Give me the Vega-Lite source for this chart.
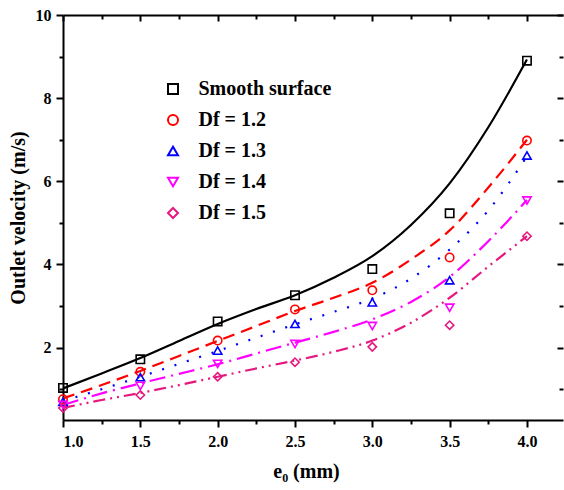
{
  "$schema": "https://vega.github.io/schema/vega-lite/v6.json",
  "autosize": "none",
  "width": 500,
  "height": 405,
  "padding": {"left": 63, "top": 15, "right": 1, "bottom": 70},
  "background": "white",
  "config": {
    "view": {"stroke": null},
    "axis": {
      "grid": false,
      "domainColor": "black",
      "domainWidth": 2,
      "tickColor": "black",
      "tickWidth": 2,
      "labelFont": "Liberation Serif",
      "labelFontSize": 16,
      "labelFontWeight": "bold",
      "labelColor": "black",
      "titleFont": "Liberation Serif",
      "titleFontSize": 20,
      "titleFontWeight": "bold",
      "titleColor": "black"
    }
  },
  "datasets": {
    "fit": [
      {"s": "Smooth surface", "x": 1.0, "v": 1.02},
      {"s": "Smooth surface", "x": 1.25, "v": 1.38},
      {"s": "Smooth surface", "x": 1.5, "v": 1.75},
      {"s": "Smooth surface", "x": 1.75, "v": 2.16},
      {"s": "Smooth surface", "x": 2.0, "v": 2.57},
      {"s": "Smooth surface", "x": 2.25, "v": 2.93},
      {"s": "Smooth surface", "x": 2.5, "v": 3.26},
      {"s": "Smooth surface", "x": 2.75, "v": 3.68},
      {"s": "Smooth surface", "x": 3.0, "v": 4.2},
      {"s": "Smooth surface", "x": 3.25, "v": 4.95},
      {"s": "Smooth surface", "x": 3.5, "v": 5.95},
      {"s": "Smooth surface", "x": 3.75, "v": 7.3},
      {"s": "Smooth surface", "x": 4.0, "v": 8.93},
      {"s": "Df = 1.2", "x": 1.0, "v": 0.78},
      {"s": "Df = 1.2", "x": 1.25, "v": 1.1},
      {"s": "Df = 1.2", "x": 1.5, "v": 1.44},
      {"s": "Df = 1.2", "x": 1.75, "v": 1.8},
      {"s": "Df = 1.2", "x": 2.0, "v": 2.16},
      {"s": "Df = 1.2", "x": 2.25, "v": 2.52},
      {"s": "Df = 1.2", "x": 2.5, "v": 2.88},
      {"s": "Df = 1.2", "x": 2.75, "v": 3.2},
      {"s": "Df = 1.2", "x": 3.0, "v": 3.56},
      {"s": "Df = 1.2", "x": 3.25, "v": 4.12},
      {"s": "Df = 1.2", "x": 3.5, "v": 4.82},
      {"s": "Df = 1.2", "x": 3.75, "v": 5.85},
      {"s": "Df = 1.2", "x": 4.0, "v": 7.0},
      {"s": "Df = 1.3", "x": 1.0, "v": 0.72},
      {"s": "Df = 1.3", "x": 1.25, "v": 1.0},
      {"s": "Df = 1.3", "x": 1.5, "v": 1.3},
      {"s": "Df = 1.3", "x": 1.75, "v": 1.61},
      {"s": "Df = 1.3", "x": 2.0, "v": 1.92},
      {"s": "Df = 1.3", "x": 2.25, "v": 2.24},
      {"s": "Df = 1.3", "x": 2.5, "v": 2.56},
      {"s": "Df = 1.3", "x": 2.75, "v": 2.86},
      {"s": "Df = 1.3", "x": 3.0, "v": 3.18},
      {"s": "Df = 1.3", "x": 3.25, "v": 3.66},
      {"s": "Df = 1.3", "x": 3.5, "v": 4.36},
      {"s": "Df = 1.3", "x": 3.75, "v": 5.3},
      {"s": "Df = 1.3", "x": 4.0, "v": 6.6},
      {"s": "Df = 1.4", "x": 1.0, "v": 0.62},
      {"s": "Df = 1.4", "x": 1.25, "v": 0.9},
      {"s": "Df = 1.4", "x": 1.5, "v": 1.14},
      {"s": "Df = 1.4", "x": 1.75, "v": 1.37},
      {"s": "Df = 1.4", "x": 2.0, "v": 1.6},
      {"s": "Df = 1.4", "x": 2.25, "v": 1.86},
      {"s": "Df = 1.4", "x": 2.5, "v": 2.12},
      {"s": "Df = 1.4", "x": 2.75, "v": 2.38},
      {"s": "Df = 1.4", "x": 3.0, "v": 2.68},
      {"s": "Df = 1.4", "x": 3.25, "v": 3.1},
      {"s": "Df = 1.4", "x": 3.5, "v": 3.7},
      {"s": "Df = 1.4", "x": 3.75, "v": 4.56},
      {"s": "Df = 1.4", "x": 4.0, "v": 5.55},
      {"s": "Df = 1.5", "x": 1.0, "v": 0.55},
      {"s": "Df = 1.5", "x": 1.25, "v": 0.74},
      {"s": "Df = 1.5", "x": 1.5, "v": 0.91},
      {"s": "Df = 1.5", "x": 1.75, "v": 1.1},
      {"s": "Df = 1.5", "x": 2.0, "v": 1.3},
      {"s": "Df = 1.5", "x": 2.25, "v": 1.5},
      {"s": "Df = 1.5", "x": 2.5, "v": 1.69},
      {"s": "Df = 1.5", "x": 2.75, "v": 1.9},
      {"s": "Df = 1.5", "x": 3.0, "v": 2.17},
      {"s": "Df = 1.5", "x": 3.25, "v": 2.6},
      {"s": "Df = 1.5", "x": 3.5, "v": 3.2},
      {"s": "Df = 1.5", "x": 3.75, "v": 3.95},
      {"s": "Df = 1.5", "x": 4.0, "v": 4.68}
    ],
    "pts": [
      {"s": "Smooth surface", "x": 1.0, "v": 1.03},
      {"s": "Smooth surface", "x": 1.5, "v": 1.72},
      {"s": "Smooth surface", "x": 2.0, "v": 2.63},
      {"s": "Smooth surface", "x": 2.5, "v": 3.26},
      {"s": "Smooth surface", "x": 3.0, "v": 3.89},
      {"s": "Smooth surface", "x": 3.5, "v": 5.23},
      {"s": "Smooth surface", "x": 4.0, "v": 8.9},
      {"s": "Df = 1.2", "x": 1.0, "v": 0.76},
      {"s": "Df = 1.2", "x": 1.5, "v": 1.42},
      {"s": "Df = 1.2", "x": 2.0, "v": 2.17},
      {"s": "Df = 1.2", "x": 2.5, "v": 2.92},
      {"s": "Df = 1.2", "x": 3.0, "v": 3.38},
      {"s": "Df = 1.2", "x": 3.5, "v": 4.17},
      {"s": "Df = 1.2", "x": 4.0, "v": 6.98},
      {"s": "Df = 1.3", "x": 1.0, "v": 0.7},
      {"s": "Df = 1.3", "x": 1.5, "v": 1.29},
      {"s": "Df = 1.3", "x": 2.0, "v": 1.93},
      {"s": "Df = 1.3", "x": 2.5, "v": 2.57},
      {"s": "Df = 1.3", "x": 3.0, "v": 3.09},
      {"s": "Df = 1.3", "x": 3.5, "v": 3.62},
      {"s": "Df = 1.3", "x": 4.0, "v": 6.62},
      {"s": "Df = 1.4", "x": 1.0, "v": 0.62},
      {"s": "Df = 1.4", "x": 1.5, "v": 1.08},
      {"s": "Df = 1.4", "x": 2.0, "v": 1.61},
      {"s": "Df = 1.4", "x": 2.5, "v": 2.09},
      {"s": "Df = 1.4", "x": 3.0, "v": 2.52},
      {"s": "Df = 1.4", "x": 3.5, "v": 2.96},
      {"s": "Df = 1.4", "x": 4.0, "v": 5.54},
      {"s": "Df = 1.5", "x": 1.0, "v": 0.55},
      {"s": "Df = 1.5", "x": 1.5, "v": 0.86},
      {"s": "Df = 1.5", "x": 2.0, "v": 1.3},
      {"s": "Df = 1.5", "x": 2.5, "v": 1.65},
      {"s": "Df = 1.5", "x": 3.0, "v": 2.02},
      {"s": "Df = 1.5", "x": 3.5, "v": 2.54},
      {"s": "Df = 1.5", "x": 4.0, "v": 4.68}
    ]
  },
  "resolve": {"axis": {"x": "independent", "y": "independent"}},
  "layer": [
    {
      "data": {"name": "fit"},
      "transform": [{"filter": "datum.s === 'Smooth surface'"}],
      "mark": {"type": "line", "interpolate": "monotone", "strokeWidth": 2.2},
      "encoding": {
        "x": {"field": "x", "type": "quantitative",
          "scale": {"domain": [1, 4.233], "nice": false, "zero": false},
          "axis": {"orient": "bottom", "values": [1, 1.5, 2, 2.5, 3, 3.5, 4], "format": ".1f", "tickSize": 7, "labelPadding": 6, "title": "e₀ (mm)", "titlePadding": 12, "titleX": 243}},
        "y": {"field": "v", "type": "quantitative",
          "scale": {"domain": [0.26, 10], "nice": false, "zero": false},
          "axis": {"orient": "left", "values": [2, 4, 6, 8, 10], "format": "d", "tickSize": 7, "labelPadding": 5, "title": "Outlet velocity (m/s)", "titlePadding": 7}},
        "color": {"field": "s", "type": "nominal",
          "scale": {"domain": ["Smooth surface", "Df = 1.2", "Df = 1.3", "Df = 1.4", "Df = 1.5"], "range": ["#000000", "#FF0000", "#0000FF", "#FF00FF", "#E5187F"]}}
      }
    },
    {
      "data": {"name": "fit"},
      "transform": [{"filter": "datum.s === 'Df = 1.2'"}],
      "mark": {"type": "line", "interpolate": "monotone", "strokeWidth": 2.2, "strokeDash": [12, 7]},
      "encoding": {
        "x": {"field": "x", "type": "quantitative", "axis": null},
        "y": {"field": "v", "type": "quantitative", "axis": null},
        "color": {"field": "s", "type": "nominal"}
      }
    },
    {
      "data": {"name": "fit"},
      "transform": [{"filter": "datum.s === 'Df = 1.3'"}],
      "mark": {"type": "line", "interpolate": "monotone", "strokeWidth": 2.2, "strokeDash": [2, 11]},
      "encoding": {
        "x": {"field": "x", "type": "quantitative", "axis": null},
        "y": {"field": "v", "type": "quantitative", "axis": null},
        "color": {"field": "s", "type": "nominal"}
      }
    },
    {
      "data": {"name": "fit"},
      "transform": [{"filter": "datum.s === 'Df = 1.4'"}],
      "mark": {"type": "line", "interpolate": "monotone", "strokeWidth": 2.2, "strokeDash": [16, 6, 2, 6]},
      "encoding": {
        "x": {"field": "x", "type": "quantitative", "axis": null},
        "y": {"field": "v", "type": "quantitative", "axis": null},
        "color": {"field": "s", "type": "nominal"}
      }
    },
    {
      "data": {"name": "fit"},
      "transform": [{"filter": "datum.s === 'Df = 1.5'"}],
      "mark": {"type": "line", "interpolate": "monotone", "strokeWidth": 2.2, "strokeDash": [12, 5, 2, 5, 2, 5]},
      "encoding": {
        "x": {"field": "x", "type": "quantitative", "axis": null},
        "y": {"field": "v", "type": "quantitative", "axis": null},
        "color": {"field": "s", "type": "nominal"}
      }
    },
    {
      "data": {"name": "pts"},
      "mark": {"type": "point", "filled": false, "size": 70, "strokeWidth": 1.6, "opacity": 1},
      "encoding": {
        "x": {"field": "x", "type": "quantitative",
          "scale": {"domain": [1, 4.233], "nice": false, "zero": false},
          "axis": {"orient": "bottom", "values": [1.25, 1.75, 2.25, 2.75, 3.25, 3.75], "labels": false, "tickSize": 4, "domain": false, "title": null}},
        "y": {"field": "v", "type": "quantitative",
          "scale": {"domain": [0.26, 10], "nice": false, "zero": false},
          "axis": {"orient": "left", "values": [1, 3, 5, 7, 9], "labels": false, "tickSize": 4, "domain": false, "title": null}},
        "color": {"field": "s", "type": "nominal",
          "scale": {"domain": ["Smooth surface", "Df = 1.2", "Df = 1.3", "Df = 1.4", "Df = 1.5"], "range": ["#000000", "#FF0000", "#0000FF", "#FF00FF", "#E5187F"]}},
        "shape": {"field": "s", "type": "nominal",
          "scale": {"domain": ["Smooth surface", "Df = 1.2", "Df = 1.3", "Df = 1.4", "Df = 1.5"], "range": ["square", "circle", "triangle-up", "triangle-down", "diamond"]},
          "legend": {"title": null, "orient": "none", "legendX": 100, "legendY": 64, "padding": 0, "symbolSize": 100, "symbolStrokeWidth": 2, "labelOffset": 15.5, "rowPadding": 11, "labelFont": "Liberation Serif", "labelFontSize": 20, "labelFontWeight": "bold", "labelColor": "black", "labelLimit": 300}}
      }
    },
    {
      "data": {"name": "pts"},
      "mark": {"type": "point", "opacity": 0},
      "encoding": {
        "x": {"field": "x", "type": "quantitative",
          "axis": {"orient": "top", "values": [1, 1.5, 2, 2.5, 3, 3.5, 4], "labels": false, "tickSize": -6, "title": null}},
        "y": {"field": "v", "type": "quantitative",
          "axis": {"orient": "right", "values": [2, 4, 6, 8, 10], "labels": false, "tickSize": -6, "domain": false, "title": null}}
      }
    },
    {
      "data": {"name": "pts"},
      "mark": {"type": "point", "opacity": 0},
      "encoding": {
        "x": {"field": "x", "type": "quantitative",
          "axis": {"orient": "top", "values": [1.25, 1.75, 2.25, 2.75, 3.25, 3.75], "labels": false, "tickSize": -4, "domain": false, "title": null}},
        "y": {"field": "v", "type": "quantitative",
          "axis": {"orient": "right", "values": [1, 3, 5, 7, 9], "labels": false, "tickSize": -4, "domain": false, "title": null}}
      }
    }
  ]
}
